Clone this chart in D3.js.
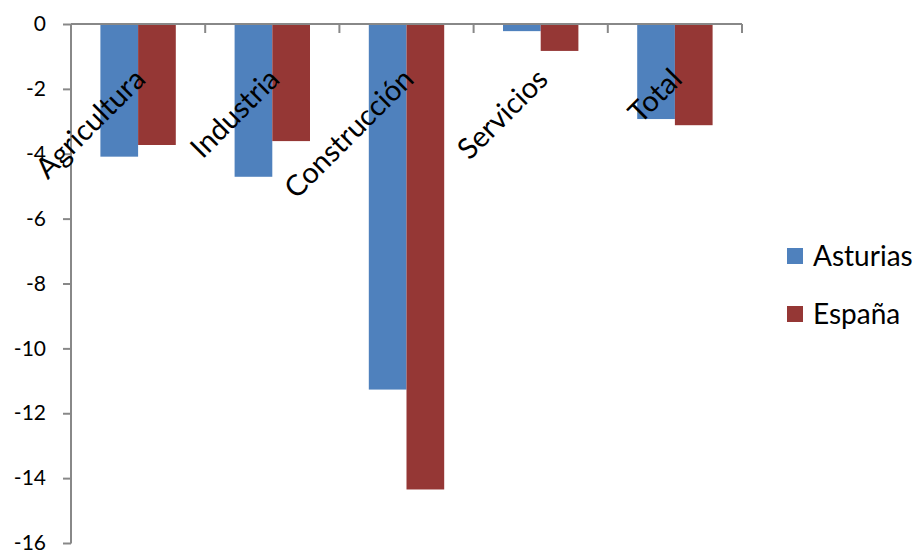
<!DOCTYPE html>
<html>
<head>
<meta charset="utf-8">
<script src="https://cdn.jsdelivr.net/npm/d3@7"></script>
<style>
  html, body { margin: 0; padding: 0; background: #fff; }
  svg { display: block; }
  text { font-family: Lato, "Open Sans", sans-serif; fill: #000; }
</style>
</head>
<body>
<svg id="chart" width="919" height="550"></svg>
<script>
// Variación del empleo por sector (%)
const categories = ["Agricultura", "Industria", "Construcción", "Servicios", "Total"];
const seriesNames = ["Asturias", "España"];
const asturias = [-4.09, -4.71, -11.27, -0.22, -2.93];
const espana = [-3.73, -3.61, -14.35, -0.83, -3.12];
const yTicks = [0, -2, -4, -6, -8, -10, -12, -14, -16];
const colors = ["#4F81BD", "#953735"];

const values = [asturias, espana];
const svg = d3.select("#chart");

const x0 = d3.scaleBand().domain(categories).range([71, 742]).paddingInner(0).paddingOuter(0);
const x1 = d3.scaleBand().domain(seriesNames).range([0, x0.bandwidth()]).paddingInner(0).paddingOuter(0.78);
const y = d3.scaleLinear().domain([-16, 0]).range([543, 24]);
const axisColor = "#888";

// bars
const groups = svg.append("g").selectAll("g")
  .data(categories)
  .join("g")
  .attr("transform", d => `translate(${x0(d)},0)`);

groups.selectAll("rect")
  .data((d, i) => seriesNames.map((s, j) => ({ s, v: values[j][i], j })))
  .join("rect")
  .attr("x", d => x1(d.s))
  .attr("width", x1.bandwidth())
  .attr("y", d => y(Math.max(0, d.v)))
  .attr("height", d => Math.abs(y(d.v) - y(0)))
  .attr("fill", d => colors[d.j]);

// value axis
const yAxis = svg.append("g")
  .attr("transform", "translate(71,0)")
  .call(d3.axisLeft(y).tickValues(yTicks).tickSize(8).tickPadding(17).tickFormat(d3.format("d")));
yAxis.select(".domain").attr("stroke", axisColor).attr("stroke-width", 2).attr("d", "M0,24V543.5");
yAxis.selectAll(".tick line").attr("stroke", axisColor).attr("stroke-width", 2);
yAxis.selectAll(".tick text")
  .style("font-family", "Lato, 'Open Sans', sans-serif")
  .style("font-size", "21px")
  .attr("fill", "#000")
  .text(d => d === 0 ? "0" : "-" + Math.abs(d));

// category axis along zero, ticks between categories
const boundaries = categories.map(c => x0(c)).concat([x0.range()[1]]);
const xAxis = svg.append("g");
xAxis.append("line")
  .attr("x1", 71).attr("x2", 742).attr("y1", y(0)).attr("y2", y(0))
  .attr("stroke", axisColor).attr("stroke-width", 2);
xAxis.selectAll("line.tk")
  .data(boundaries)
  .join("line")
  .attr("class", "tk")
  .attr("x1", d => d).attr("x2", d => d)
  .attr("y1", y(0)).attr("y2", y(0) + 9)
  .attr("stroke", axisColor).attr("stroke-width", 2);

// rotated category labels
svg.append("g").selectAll("text")
  .data(categories)
  .join("text")
  .attr("transform", d => `translate(${x0(d) + x0.bandwidth() / 2 + 9},${y(0) + 57}) rotate(-45)`)
  .attr("text-anchor", "end")
  .style("font-size", "29px")
  .text(d => d);

// legend
const legend = svg.append("g").selectAll("g")
  .data(seriesNames)
  .join("g")
  .attr("transform", (d, i) => `translate(787,${256 + i * 58})`);
legend.append("rect")
  .attr("x", 0).attr("y", -8).attr("width", 16).attr("height", 16)
  .attr("fill", (d, i) => colors[i]);
legend.append("text")
  .attr("x", 26).attr("y", 0).attr("dy", "0.35em")
  .style("font-size", "28px")
  .text(d => d);
</script>
</body>
</html>
